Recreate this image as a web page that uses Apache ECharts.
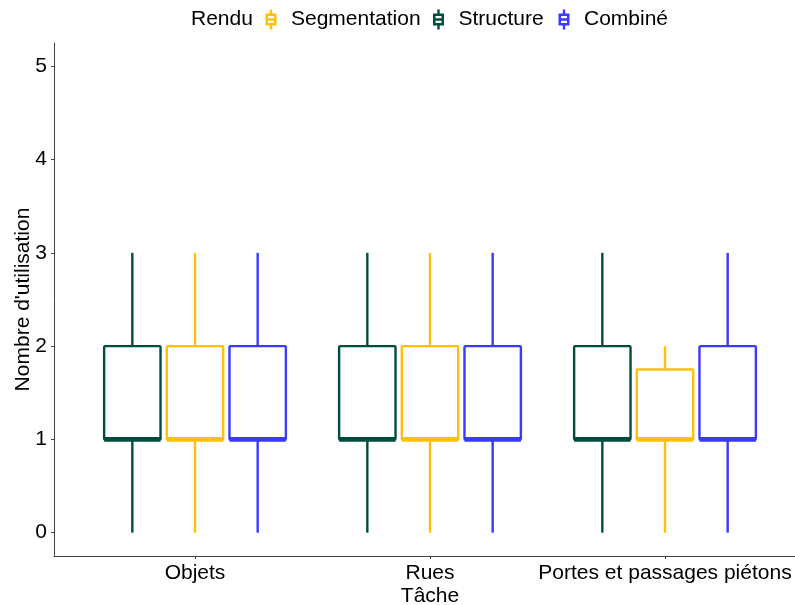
<!DOCTYPE html>
<html>
<head>
<meta charset="utf-8">
<script src="https://cdn.jsdelivr.net/npm/echarts@6/dist/echarts.min.js"></script>
<style>html,body{margin:0;padding:0;background:#fff}#c{width:795px;height:605px}</style>
</head>
<body>
<div id="c"></div>
<script>
// ---- data ----
const categories = ['Objets', 'Rues', 'Portes et passages piétons'];
// [min, q1, median, q3, max] per category
const structureStats = [[0, 1, 1, 2, 3], [0, 1, 1, 2, 3], [0, 1, 1, 2, 3]];
const segmentationStats = [[0, 1, 1, 2, 3], [0, 1, 1, 2, 3], [0, 1, 1, 1.75, 2]];
const combineStats = [[0, 1, 1, 2, 3], [0, 1, 1, 2, 3], [0, 1, 1, 2, 3]];
const yTicks = [0, 1, 2, 3, 4, 5];
const catTicks = [0, 1, 2];

const FONT = 'Liberation Sans, Arial, sans-serif';
const colors = { Segmentation: '#FFC107', Structure: '#004D40', 'Combiné': '#3A3AFF' };
// boxplot glyph centred in a 30 x 20 box (padding points keep the box size)
const ICON = 'path://M0 10L0 10Z M30 10L30 10Z ' +
  'M13.8 0L16.2 0L16.2 4L13.8 4Z ' +
  'M9.5 4L20.5 4L20.5 16L9.5 16Z ' +
  'M12 6.4L12 13.6L18 13.6L18 6.4Z ' +
  'M12 8.8L18 8.8L18 11.2L12 11.2Z ' +
  'M13.8 16L16.2 16L16.2 20L13.8 20Z';

function toData(stats) { return stats.map((s, i) => [i].concat(s)); }

function makeRender(offset) {
  return function (params, api) {
    const x = api.value(0) + offset;
    const mn = api.value(1), q1 = api.value(2), md = api.value(3), q3 = api.value(4), mx = api.value(5);
    const halfW = api.size([0.12, 0])[0];
    const pMax = api.coord([x, mx]), pQ3 = api.coord([x, q3]), pMd = api.coord([x, md]);
    const pQ1 = api.coord([x, q1]), pMin = api.coord([x, mn]);
    const color = api.visual('color');
    return {
      type: 'group',
      children: [
        { type: 'line', shape: { x1: pMax[0], y1: pMax[1], x2: pQ3[0], y2: pQ3[1] }, style: { stroke: color, lineWidth: 2.4 } },
        { type: 'line', shape: { x1: pQ1[0], y1: pQ1[1], x2: pMin[0], y2: pMin[1] }, style: { stroke: color, lineWidth: 2.4 } },
        { type: 'rect', shape: { x: pQ3[0] - halfW, y: pQ3[1], width: 2 * halfW, height: pQ1[1] - pQ3[1], r: 1 }, style: { fill: '#fff', stroke: color, lineWidth: 2.4 } },
        { type: 'line', shape: { x1: pMd[0] - halfW, y1: pMd[1], x2: pMd[0] + halfW, y2: pMd[1] }, style: { stroke: color, lineWidth: 4.6 } }
      ]
    };
  };
}

const chart = echarts.init(document.getElementById('c'), null, { renderer: 'canvas' });

function mkLegend(name, left) {
  return {
    data: [name], left: left, top: 9, padding: 0, icon: ICON, itemWidth: 30, itemHeight: 20,
    itemStyle: { borderWidth: 0 },
    textStyle: { fontFamily: FONT, fontSize: 21, color: '#000' }, selectedMode: false
  };
}

chart.setOption({
  animation: false,
  backgroundColor: '#fff',
  title: { text: 'Rendu', left: 191, top: 9, padding: 0, textStyle: { fontFamily: FONT, fontSize: 21, fontWeight: 'normal', color: '#000' } },
  legend: [mkLegend('Segmentation', 256), mkLegend('Structure', 423.5), mkLegend('Combiné', 549)],
  grid: { left: 54, top: 43, width: 752, height: 513, containLabel: false, outerBoundsMode: 'none' },
  xAxis: {
    type: 'value', min: -0.6, max: 2.6,
    name: 'Tâche', nameLocation: 'middle', nameGap: 30, nameMoveOverlap: false,
    nameTextStyle: { fontFamily: FONT, fontSize: 21, color: '#000' },
    splitLine: { show: false },
    axisLine: { show: true, onZero: false, lineStyle: { color: '#444', width: 1 } },
    axisTick: { show: true, customValues: catTicks, length: 3, lineStyle: { color: '#444' } },
    axisLabel: {
      customValues: catTicks, margin: 7, fontFamily: FONT, fontSize: 21, color: '#000',
      formatter: v => categories[Math.round(v)]
    }
  },
  yAxis: {
    type: 'value', min: -0.25, max: 5.25,
    name: "Nombre d'utilisation", nameLocation: 'middle', nameGap: 20, nameRotate: 90, nameMoveOverlap: false,
    nameTextStyle: { fontFamily: FONT, fontSize: 21, color: '#000' },
    splitLine: { show: false },
    axisLine: { show: true, onZero: false, lineStyle: { color: '#444', width: 1 } },
    axisTick: { show: true, customValues: yTicks, length: 3, lineStyle: { color: '#444' } },
    axisLabel: { customValues: yTicks, margin: 7, fontFamily: FONT, fontSize: 21, color: '#000' }
  },
  series: [
    { name: 'Structure', type: 'custom', renderItem: makeRender(-0.2667), data: toData(structureStats), itemStyle: { color: colors.Structure }, encode: { x: 0, y: [1, 2, 3, 4, 5] } },
    { name: 'Segmentation', type: 'custom', renderItem: makeRender(0), data: toData(segmentationStats), itemStyle: { color: colors.Segmentation }, encode: { x: 0, y: [1, 2, 3, 4, 5] } },
    { name: 'Combiné', type: 'custom', renderItem: makeRender(0.2667), data: toData(combineStats), itemStyle: { color: colors['Combiné'] }, encode: { x: 0, y: [1, 2, 3, 4, 5] } }
  ]
});
</script>
</body>
</html>
